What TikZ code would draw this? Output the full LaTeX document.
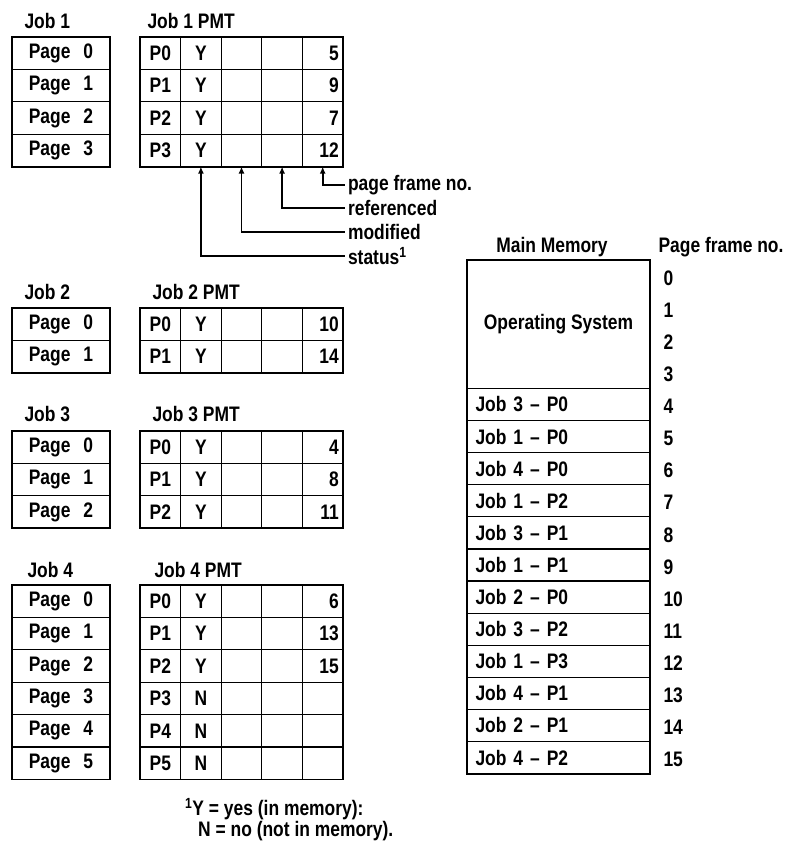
\documentclass[tikz,border=0pt]{standalone}
\usepackage{fontspec}
\setmainfont{Liberation Sans}[FakeStretch=0.83]
\usepackage{tikz}
\usetikzlibrary{arrows.meta, positioning, fit}
\tikzstyle{pagecell} = [draw=black, line width=1.2pt, minimum width=98pt, minimum height=32.4pt, inner sep=0pt, outer sep=0pt]
\tikzstyle{pmtcell} = [draw=black, line width=1.2pt, minimum width=40.6pt, minimum height=32.4pt, inner sep=0pt, outer sep=0pt]
\tikzstyle{pmtnum} = [pmtcell, text width=32pt, align=right, inner xsep=4.3pt]
\tikzstyle{memcell} = [draw=black, line width=1.2pt, minimum width=183pt, minimum height=32.1pt, inner sep=0pt, outer sep=0pt]
\tikzstyle{frame} = [draw=black, line width=1.8pt, inner sep=0pt]
\tikzstyle{arr} = [line width=1.8pt, ->, >={Latex[length=7pt,width=6pt]}]

\begin{document}
\begin{tikzpicture}[x=1pt, y=-1pt, font=\fontsize{21}{19}\selectfont\bfseries]
    \useasboundingbox (0,0) rectangle (789,844);

    % Job 1
    \node[anchor=west] (job1) at (21,20.5) {Job 1};
    \foreach \r in {0,...,3}
        \node[pagecell] (j1p\r) at (61,53.2+32.4*\r) {Page\hspace{13pt}\r};
    \node[frame, fit=(j1p0)(j1p3)] (j1pages) {};

    % Job 1 PMT
    \node[anchor=west] (pmt1) at (144,20.5) {Job 1 PMT};
    \foreach \r/\s/\f in {0/Y/5, 1/Y/9, 2/Y/7, 3/Y/12} {
        \node[pmtcell] (j1t\r-a) at (160.3,53.2+32.4*\r) {P\r};
        \node[pmtcell] (j1t\r-b) at (200.9,53.2+32.4*\r) {\s};
        \node[pmtcell] (j1t\r-c) at (241.5,53.2+32.4*\r) {};
        \node[pmtcell] (j1t\r-d) at (282.1,53.2+32.4*\r) {};
        \node[pmtnum] (j1t\r-e) at (322.7,53.2+32.4*\r) {\f};
    }
    \node[frame, fit=(j1t0-a)(j1t3-e)] (j1pmt) {};

    % PMT column labels
    \node[anchor=west] (lframe) at (344.5,185) {page frame no.};
    \node[anchor=west] (lref) at (344.5,208) {referenced};
    \node[anchor=west] (lmod) at (344.5,232) {modified};
    \node[anchor=west] (lstat) at (344.5,256) {status\textsuperscript{1}};
    \draw[arr] (lframe.west) -| (j1t3-e.south);
    \draw[arr] (lref.west) -| (j1t3-d.south);
    \draw[arr] (lmod.west) -| (j1t3-c.south);
    \draw[arr] (lstat.west) -| (j1t3-b.south);

    % Job 2
    \node[anchor=west] (job2) at (21,292) {Job 2};
    \foreach \r in {0,1}
        \node[pagecell] (j2p\r) at (61,324.2+32.4*\r) {Page\hspace{13pt}\r};
    \node[frame, fit=(j2p0)(j2p1)] (j2pages) {};

    % Job 2 PMT
    \node[anchor=west] (pmt2) at (149,292) {Job 2 PMT};
    \foreach \r/\s/\f in {0/Y/10, 1/Y/14} {
        \node[pmtcell] (j2t\r-a) at (160.3,324.2+32.4*\r) {P\r};
        \node[pmtcell] (j2t\r-b) at (200.9,324.2+32.4*\r) {\s};
        \node[pmtcell] (j2t\r-c) at (241.5,324.2+32.4*\r) {};
        \node[pmtcell] (j2t\r-d) at (282.1,324.2+32.4*\r) {};
        \node[pmtnum] (j2t\r-e) at (322.7,324.2+32.4*\r) {\f};
    }
    \node[frame, fit=(j2t0-a)(j2t1-e)] (j2pmt) {};

    % Job 3
    \node[anchor=west] (job3) at (21,414) {Job 3};
    \foreach \r in {0,...,2}
        \node[pagecell] (j3p\r) at (61,447.2+32.4*\r) {Page\hspace{13pt}\r};
    \node[frame, fit=(j3p0)(j3p2)] (j3pages) {};

    % Job 3 PMT
    \node[anchor=west] (pmt3) at (149,414) {Job 3 PMT};
    \foreach \r/\s/\f in {0/Y/4, 1/Y/8, 2/Y/11} {
        \node[pmtcell] (j3t\r-a) at (160.3,447.2+32.4*\r) {P\r};
        \node[pmtcell] (j3t\r-b) at (200.9,447.2+32.4*\r) {\s};
        \node[pmtcell] (j3t\r-c) at (241.5,447.2+32.4*\r) {};
        \node[pmtcell] (j3t\r-d) at (282.1,447.2+32.4*\r) {};
        \node[pmtnum] (j3t\r-e) at (322.7,447.2+32.4*\r) {\f};
    }
    \node[frame, fit=(j3t0-a)(j3t2-e)] (j3pmt) {};

    % Job 4
    \node[anchor=west] (job4) at (24,570) {Job 4};
    \foreach \r in {0,...,5}
        \node[pagecell] (j4p\r) at (61,601.2+32.4*\r) {Page\hspace{13pt}\r};
    \node[frame, fit=(j4p0)(j4p5)] (j4pages) {};

    % Job 4 PMT
    \node[anchor=west] (pmt4) at (151,570) {Job 4 PMT};
    \foreach \r/\s/\f in {0/Y/6, 1/Y/13, 2/Y/15, 3/N/{}, 4/N/{}, 5/N/{}} {
        \node[pmtcell] (j4t\r-a) at (160.3,601.2+32.4*\r) {P\r};
        \node[pmtcell] (j4t\r-b) at (200.9,601.2+32.4*\r) {\s};
        \node[pmtcell] (j4t\r-c) at (241.5,601.2+32.4*\r) {};
        \node[pmtcell] (j4t\r-d) at (282.1,601.2+32.4*\r) {};
        \node[pmtnum] (j4t\r-e) at (322.7,601.2+32.4*\r) {\f};
    }
    \node[frame, fit=(j4t0-a)(j4t5-e)] (j4pmt) {};

    % Footnote
    \node[anchor=north west, align=left, inner sep=0pt] (fn) at (185,798)
        {\textsuperscript{1}Y = yes (in memory):\\\hspace{13pt}N = no (not in memory).};

    % Main Memory
    \node (mmhead) at (552,247) {Main Memory};
    \node[anchor=west] (pfhead) at (655,247) {Page frame no.};
    \node[memcell, minimum height=128.4pt] (os) at (558.5,324.2) {Operating System};
    \foreach \r/\t in {4/Job 3 -- P0, 5/Job 1 -- P0, 6/Job 4 -- P0, 7/Job 1 -- P2,
                       8/Job 3 -- P1, 9/Job 1 -- P1, 10/Job 2 -- P0, 11/Job 3 -- P2,
                       12/Job 1 -- P3, 13/Job 4 -- P1, 14/Job 2 -- P1, 15/Job 4 -- P2}
        \node[memcell, text width=166pt, align=left, inner xsep=8.5pt] (m\r) at (558.5,276.05+32.1*\r) {\t};
    \node[frame, fit=(os)(m15)] (mem) {};
    \foreach \n in {0,...,15}
        \node[anchor=west] (f\n) at (660,278+32.1*\n) {\n};
\end{tikzpicture}
\end{document}
